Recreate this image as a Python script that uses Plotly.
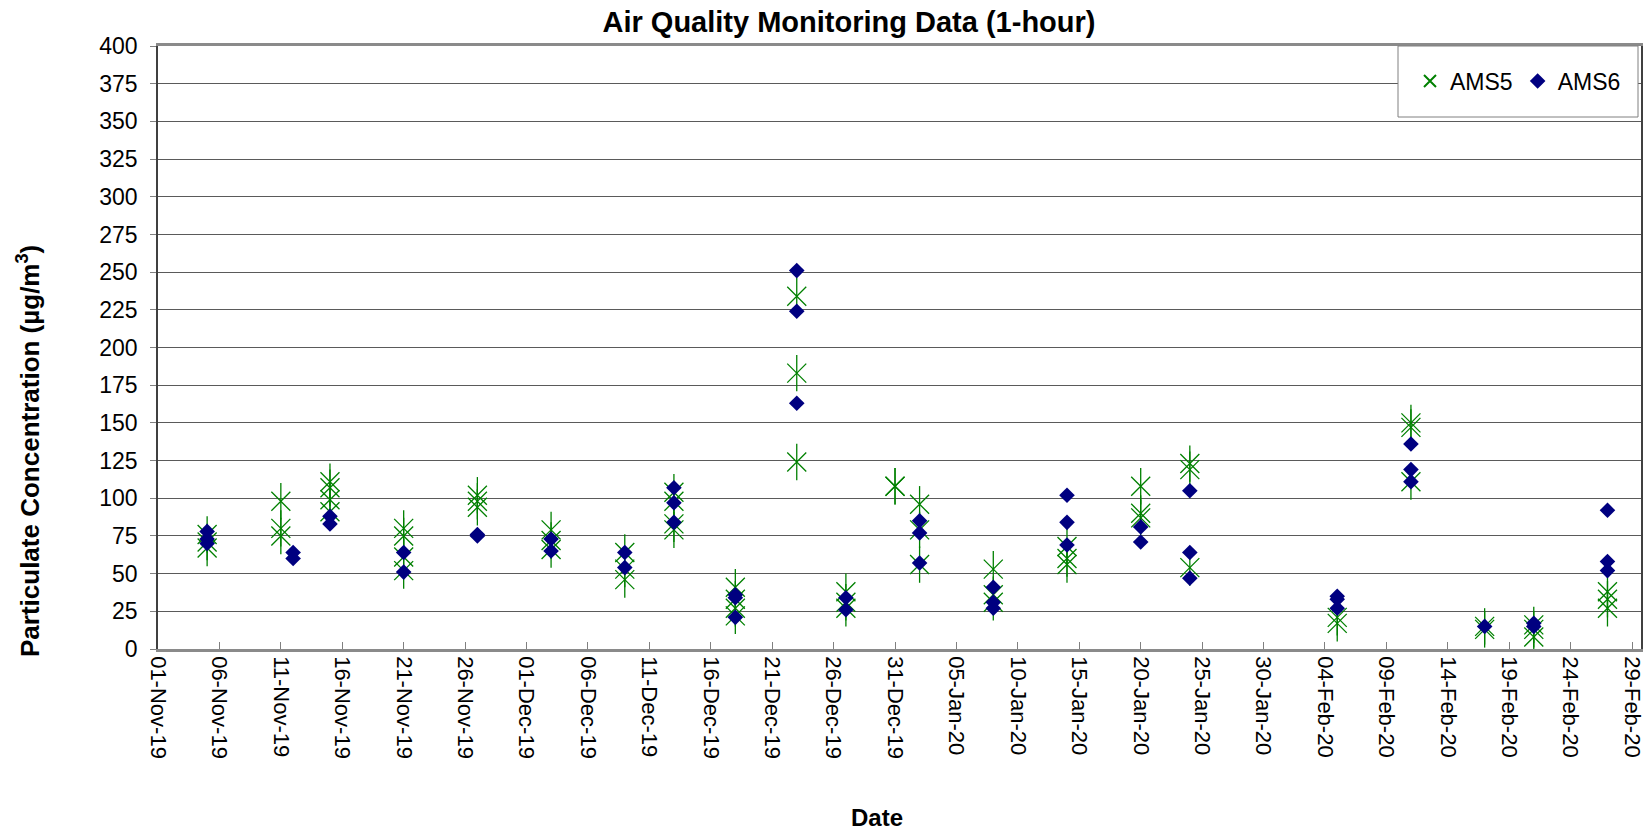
import plotly.graph_objects as go

# AMS5 readings (date, value)
ams5_dates = (["2019-11-05"] * 3 + ["2019-11-11"] * 3 + ["2019-11-15"] * 4 + ["2019-11-21"] * 4 +
              ["2019-11-27"] * 3 + ["2019-12-03"] * 3 + ["2019-12-09"] * 3 + ["2019-12-13"] * 4 +
              ["2019-12-18"] * 4 + ["2019-12-23"] * 3 + ["2019-12-27"] * 3 + ["2019-12-31"] * 2 +
              ["2020-01-02"] * 3 + ["2020-01-08"] * 3 + ["2020-01-14"] * 3 + ["2020-01-20"] * 3 +
              ["2020-01-24"] * 3 + ["2020-02-05"] * 2 + ["2020-02-11"] * 3 + ["2020-02-17"] * 2 +
              ["2020-02-21"] * 3 + ["2020-02-27"] * 3)
ams5_values = [76, 71, 67, 98, 80, 75, 111, 107, 99, 91, 80, 75, 61, 52,
               102, 98, 94, 79, 72, 66, 64, 53, 46, 104, 98, 83, 79,
               41, 33, 27, 22, 234, 183, 124, 38, 31, 27, 108, 108,
               96, 79, 56, 53, 36, 31, 68, 60, 56, 108, 90, 87,
               123, 119, 54, 21, 17, 150, 147, 111, 15, 13,
               16, 13, 8, 38, 33, 27]

# AMS6 readings (date, value)
ams6_dates = (["2019-11-05"] * 3 + ["2019-11-12"] * 2 + ["2019-11-15"] * 2 + ["2019-11-21"] * 2 +
              ["2019-11-27"] * 2 + ["2019-12-03"] * 2 + ["2019-12-09"] * 2 + ["2019-12-13"] * 3 +
              ["2019-12-18"] * 3 + ["2019-12-23"] * 3 + ["2019-12-27"] * 2 +
              ["2020-01-02"] * 3 + ["2020-01-08"] * 3 + ["2020-01-14"] * 3 + ["2020-01-20"] * 2 +
              ["2020-01-24"] * 3 + ["2020-02-05"] * 3 + ["2020-02-11"] * 3 + ["2020-02-17"] * 1 +
              ["2020-02-21"] * 2 + ["2020-02-27"] * 3)
ams6_values = [78, 73, 70, 64, 60, 88, 83, 64, 51, 76, 75, 73, 65, 64, 54,
               107, 97, 84, 36, 34, 21, 251, 224, 163, 34, 26,
               85, 77, 57, 41, 31, 27, 102, 84, 69, 81, 71,
               105, 64, 47, 35, 33, 27, 136, 119, 111, 15,
               17, 15, 92, 58, 52]

GREEN = "#008000"
NAVY = "#000080"
FONT = "Liberation Sans, Arial, sans-serif"

W, H = 1645, 833
L, R, T, B = 158, 4, 46, 184
PW, PH = W - L - R, H - T - B

fig = go.Figure()
fig.add_trace(go.Scatter(
    x=ams5_dates, y=ams5_values, mode="markers", name="AMS5", legendgroup="a5",
    marker=dict(symbol="x-thin-open", size=19, color=GREEN, line=dict(color=GREEN, width=1.3)),
))
fig.add_trace(go.Scatter(
    x=ams5_dates, y=ams5_values, mode="markers", name="AMS5", legendgroup="a5", showlegend=False,
    marker=dict(symbol="line-ns-open", size=26, color=GREEN, line=dict(color=GREEN, width=1.3)),
))
fig.add_trace(go.Scatter(
    x=ams6_dates, y=ams6_values, mode="markers", name="AMS6",
    marker=dict(symbol="diamond", size=12, color=NAVY),
))

# legend frame
fig.add_shape(type="rect", xref="paper", yref="paper",
              x0=(1398 - L) / PW, x1=(1638 - L) / PW,
              y0=(H - B - 117) / PH, y1=(H - B - 46) / PH,
              line=dict(color="#808080", width=1), fillcolor="white", layer="above")

fig.update_layout(
    width=W, height=H,
    paper_bgcolor="white", plot_bgcolor="white",
    margin=dict(l=L, r=R, t=T, b=B, autoexpand=False),
    font=dict(family=FONT, size=22, color="black"),
    title=dict(text="<b>Air Quality Monitoring Data (1-hour)</b>", x=849 / W, xanchor="center",
               y=1 - 22 / H, yanchor="middle", font=dict(size=29)),
    showlegend=True,
    legend=dict(orientation="h", x=(1410 - L) / PW, xanchor="left",
                y=(H - B - 81) / PH, yanchor="middle",
                bgcolor="rgba(0,0,0,0)", borderwidth=0,
                font=dict(size=23), itemsizing="constant", itemwidth=30),
    annotations=[
        dict(text="<b>Date</b>", xref="paper", yref="paper",
             x=(877 - L) / PW, y=-(817 - (H - B)) / PH, xanchor="center", yanchor="middle",
             showarrow=False, font=dict(size=24)),
        dict(text="<b>Particulate Concentration (µg/m<sup>3</sup>)</b>", xref="paper", yref="paper",
             x=-(L - 29) / PW, y=(H - B - 451) / PH, xanchor="center", yanchor="middle",
             textangle=-90, showarrow=False, font=dict(size=26)),
    ],
)
fig.update_xaxes(
    type="date", range=["2019-11-01", "2020-02-29 17:30"],
    tick0="2019-11-01", dtick=5 * 86400000, tickformat="%d-%b-%y", tickangle=90,
    ticks="inside", ticklen=7, tickcolor="#808080", tickwidth=1,
    showgrid=False, showline=True, linecolor="#8a8a8a", linewidth=2.5, mirror=True,
    tickfont=dict(size=22), automargin=False, ticklabeloverflow="allow",
)
fig.update_yaxes(
    range=[0, 400], tick0=0, dtick=25,
    ticks="outside", ticklen=6, tickcolor="#808080",
    showgrid=True, gridcolor="#5a5a5a", gridwidth=1,
    showline=True, linecolor="#404040", linewidth=1.5, mirror=True,
    zeroline=False, ticklabelstandoff=8,
    tickfont=dict(size=23), automargin=False,
)

fig.write_html(
    "out.html",
    config={"displayModeBar": False},
    post_script="document.body.style.margin='0';document.body.style.overflow='hidden';",
)
